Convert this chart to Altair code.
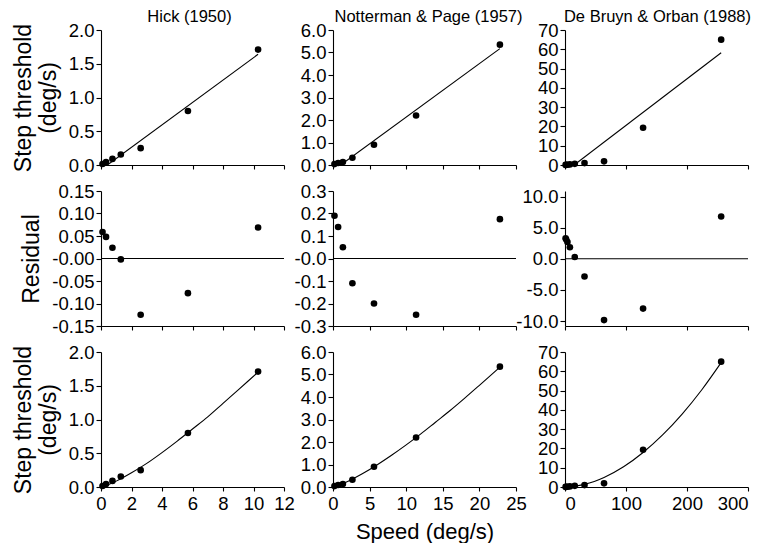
import altair as alt
import pandas as pd

FONT = "Liberation Sans"

panel_titles = ["Hick (1950)", "Notterman & Page (1957)", "De Bruyn & Orban (1988)"]

# ---- Hick (1950)
hick_speed = [0.1, 0.33, 0.75, 1.3, 2.6, 5.7, 10.3]
hick_threshold = [0.015, 0.045, 0.09, 0.155, 0.25, 0.80, 1.71]
hick_residual = [0.059, 0.048, 0.024, -0.002, -0.125, -0.077, 0.069]
hick_lin_speed = [0.42, 10.3]
hick_lin_threshold = [0.0, 1.64]
hick_pow_speed = [0.1, 0.5, 1, 2, 3, 4, 5, 6, 7, 8, 9, 10.3]
hick_pow_threshold = [0.005, 0.036, 0.087, 0.21, 0.35, 0.51, 0.68, 0.86, 1.04, 1.24, 1.44, 1.70]

# ---- Notterman & Page (1957)
np_speed = [0.2, 0.7, 1.35, 2.65, 5.6, 11.35, 22.8]
np_threshold = [0.04, 0.09, 0.13, 0.32, 0.9, 2.2, 5.35]
np_residual = [0.19, 0.14, 0.05, -0.11, -0.20, -0.25, 0.175]
np_lin_speed = [1.05, 22.8]
np_lin_threshold = [0.0, 5.17]
np_pow_speed = [0.2, 1, 2, 4, 6, 8, 10, 12, 14, 16, 18, 20, 22.8]
np_pow_threshold = [0.013, 0.10, 0.243, 0.585, 0.979, 1.41, 1.87, 2.36, 2.88, 3.40, 3.95, 4.52, 5.33]

# ---- De Bruyn & Orban (1988)
db_speed = [1, 2, 4, 8, 16, 32, 64, 128, 256]
db_threshold = [0.04, 0.08, 0.15, 0.3, 0.6, 1.0, 1.9, 19.3, 65.0]
db_residual = [3.3, 3.1, 2.7, 1.85, 0.3, -2.85, -9.85, -8.0, 6.8]
db_lin_speed = [15, 256]
db_lin_threshold = [0.0, 58.2]
db_pow_speed = [1, 8, 16, 32, 48, 64, 96, 128, 160, 192, 224, 256]
db_pow_threshold = [0.0, 0.1, 0.38, 1.37, 2.9, 4.96, 10.5, 17.9, 27.0, 37.8, 50.3, 64.5]

# axis ticks
hick_xticks = [0, 2, 4, 6, 8, 10, 12]
np_xticks = [0, 5, 10, 15, 20, 25]
db_xticks = [0, 100, 200, 300]
hick_yticks = [0, 0.5, 1.0, 1.5, 2.0]
np_yticks = [0, 1, 2, 3, 4, 5, 6]
db_yticks = [0, 10, 20, 30, 40, 50, 60, 70]
hick_rticks = [-0.15, -0.10, -0.05, 0, 0.05, 0.10, 0.15]
np_rticks = [-0.3, -0.2, -0.1, 0, 0.1, 0.2, 0.3]
db_rticks = [-10, -5, 0, 5, 10]

W, H = 183, 135


def fmt(spec, zero=None):
    neg = "datum.value < 0 ? '-' + format(-datum.value, '%s') : format(datum.value, '%s')" % (spec, spec)
    if zero is not None:
        return "datum.value == 0 ? '%s' : (%s)" % (zero, neg)
    return neg


def panel(px, py, xdom, ydom, xticks, yticks, ylab, lx=None, ly=None, interp="linear",
          ytitle=None, xlabels=False, xtitle=None, title=None, title_dx=0, rule=False, flush=False):
    xaxis_kw = dict(values=xticks, labels=xlabels, title=xtitle)
    if flush:
        xaxis_kw.update(labelFlush=True)
    xenc = alt.X("x:Q", scale=alt.Scale(domain=xdom, nice=False, zero=False),
                 axis=alt.Axis(**xaxis_kw))
    yenc = alt.Y("y:Q", scale=alt.Scale(domain=ydom, nice=False, zero=False),
                 axis=alt.Axis(values=yticks, labelExpr=ylab, title=ytitle))
    pts = alt.Chart(pd.DataFrame({"x": px, "y": py})).mark_circle(
        size=44, color="black", opacity=1).encode(x=xenc, y=yenc)
    layers = [pts]
    if lx is not None:
        ln = alt.Chart(pd.DataFrame({"x": lx, "y": ly})).mark_line(
            color="black", strokeWidth=1.1, interpolate=interp, clip=True).encode(x=xenc, y=yenc)
        layers.append(ln)
    if rule:
        r = alt.Chart(pd.DataFrame({"y": [0]})).mark_rule(color="black", strokeWidth=1.1).encode(y=yenc)
        layers.append(r)
    ch = alt.layer(*layers).properties(width=W, height=H)
    if title:
        ch = ch.properties(title=alt.TitleParams(title, dx=title_dx))
    return ch


ytop = ["Step threshold", "(deg/s)"]

charts = [
    panel(hick_speed, hick_threshold, [0, 12], [0, 2], hick_xticks, hick_yticks, fmt(".1f"),
          hick_lin_speed, hick_lin_threshold, ytitle=ytop, title=panel_titles[0], title_dx=-3),
    panel(np_speed, np_threshold, [0, 25], [0, 6], np_xticks, np_yticks, fmt(".1f"),
          np_lin_speed, np_lin_threshold, title=panel_titles[1], title_dx=4),
    panel(db_speed, db_threshold, [0, 300], [0, 70], db_xticks, db_yticks, fmt("d"),
          db_lin_speed, db_lin_threshold, title=panel_titles[2], title_dx=1, flush=True),
    panel(hick_speed, hick_residual, [0, 12], [-0.15, 0.15], hick_xticks, hick_rticks,
          fmt(".2f", "-0.00"), ytitle="Residual", rule=True),
    panel(np_speed, np_residual, [0, 25], [-0.3, 0.3], np_xticks, np_rticks,
          fmt(".1f", "-0.0"), rule=True),
    panel(db_speed, db_residual, [0, 300], [-10.8, 10.9], db_xticks, db_rticks,
          fmt(".1f"), rule=True, flush=True),
    panel(hick_speed, hick_threshold, [0, 12], [0, 2], hick_xticks, hick_yticks, fmt(".1f"),
          hick_pow_speed, hick_pow_threshold, interp="monotone", ytitle=ytop, xlabels=True),
    panel(np_speed, np_threshold, [0, 25], [0, 6], np_xticks, np_yticks, fmt(".1f"),
          np_pow_speed, np_pow_threshold, interp="monotone", xlabels=True, xtitle="Speed (deg/s)"),
    panel(db_speed, db_threshold, [0, 300], [0, 70], db_xticks, db_yticks, fmt("d"),
          db_pow_speed, db_pow_threshold, interp="monotone", xlabels=True, flush=True),
]

chart = alt.concat(*charts, columns=3, spacing={"row": 26, "column": 49}, bounds="flush").properties(
    padding={"left": 4, "top": 0, "right": 0, "bottom": 0}
).configure_view(stroke=None).configure_axis(
    grid=False, domainColor="black", tickColor="black", domainWidth=1.1, tickWidth=1.1,
    tickSize=5, labelColor="black", labelFont=FONT, labelFontSize=18.5, labelPadding=2,
    titleFont=FONT, titleFontSize=23, titleFontWeight="normal", titleColor="black",
    titlePadding=8
).configure_axisX(
    labelFlush=False, labelPadding=3, tickSize=4, titlePadding=9, titleFontSize=22,
    labelOverlap=False
).configure_title(
    font=FONT, fontSize=16.5, fontWeight="normal", color="black", anchor="middle", offset=-4
)

chart.save("out.html", embed_options={"renderer": "svg", "actions": False})
